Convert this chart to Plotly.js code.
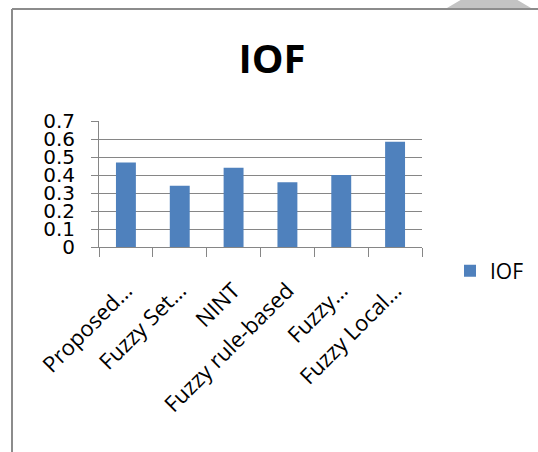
<!DOCTYPE html>
<html><head><meta charset="utf-8">
<script src="https://cdn.plot.ly/plotly-3.0.1.min.js"></script>
<style>html,body{margin:0;padding:0;background:#fff;}#chart{width:538px;height:452px;}</style>
</head><body><div id="chart"></div>
<script>
const categories = ["Proposed…", "Fuzzy Set…", "NINT", "Fuzzy rule-based", "Fuzzy…", "Fuzzy Local…"];
const iofValues = [0.47, 0.34, 0.44, 0.36, 0.40, 0.585];
const yTickValues = [0, 0.1, 0.2, 0.3, 0.4, 0.5, 0.6, 0.7];
const yTickLabels = ["0", "0.1", "0.2", "0.3", "0.4", "0.5", "0.6", "0.7"];

const W = 538, H = 452, L = 99, R = 116, T = 121, B = 205;
const pw = W - L - R, ph = H - T - B;
const px = x => (x - L) / pw;
const py = y => 1 - (y - T) / ph;

const data = [{
  type: 'bar', name: 'IOF', x: categories, y: iofValues,
  marker: {color: '#4F81BD', line: {width: 0}}
}];

const layout = {
  width: W, height: H,
  margin: {l: L, r: R, t: T, b: B, pad: 0, autoexpand: false},
  paper_bgcolor: '#fff', plot_bgcolor: '#fff',
  bargap: 0.63,
  title: {text: '<b>IOF</b>', font: {family: 'Open Sans', size: 40, color: '#000'},
          x: px(272), xref: 'paper', xanchor: 'center', y: 1 - 59 / H, yanchor: 'middle'},
  xaxis: {
    type: 'category', tickson: 'boundaries', ticks: 'outside', ticklen: 9, tickcolor: '#868686',
    showline: true, linecolor: '#868686', linewidth: 1, showgrid: false,
    tickangle: -45, ticklabelstandoff: 21, automargin: false,
    tickfont: {family: 'Open Sans', size: 22, color: '#000'}
  },
  yaxis: {
    range: [0, 0.7], tickvals: yTickValues, ticktext: yTickLabels,
    ticks: 'outside', ticklen: 7, tickcolor: '#868686',
    showline: true, linecolor: '#868686', linewidth: 1,
    showgrid: true, gridcolor: '#868686', gridwidth: 1, zeroline: false,
    ticklabelstandoff: 12, automargin: false,
    tickfont: {family: 'DejaVu Sans', size: 20, color: '#000'}
  },
  showlegend: true,
  legend: {xref: 'container', yref: 'container', x: 450 / W, xanchor: 'left', y: 1 - 271 / H, yanchor: 'middle',
           font: {family: 'Open Sans', size: 21, color: '#000'}, bgcolor: 'rgba(0,0,0,0)'},
  shapes: [
    {type: 'line', xref: 'paper', yref: 'paper', x0: px(12), x1: px(12), y0: py(9), y1: py(460),
     line: {color: '#8c8c8c', width: 2}},
    {type: 'line', xref: 'paper', yref: 'paper', x0: px(12), x1: px(538), y0: py(9), y1: py(9),
     line: {color: '#8c8c8c', width: 2}},
    {type: 'path', xref: 'paper', yref: 'paper',
     path: 'M ' + px(447) + ' ' + py(8) + ' L ' + px(464) + ' ' + py(-2) + ' L ' + px(514) + ' ' + py(-2) + ' L ' + px(531) + ' ' + py(8) + ' Z',
     fillcolor: '#c3c3c3', line: {width: 0}}
  ],
  annotations: [
    {text: '<b>METHOD</b>', xref: 'paper', yref: 'paper', x: px(268), y: py(4), xanchor: 'center', yanchor: 'bottom',
     showarrow: false, font: {family: 'Liberation Serif', size: 16, color: '#000'}}
  ]
};

Plotly.newPlot('chart', data, layout, {displayModeBar: false, staticPlot: true});
</script></body></html>
